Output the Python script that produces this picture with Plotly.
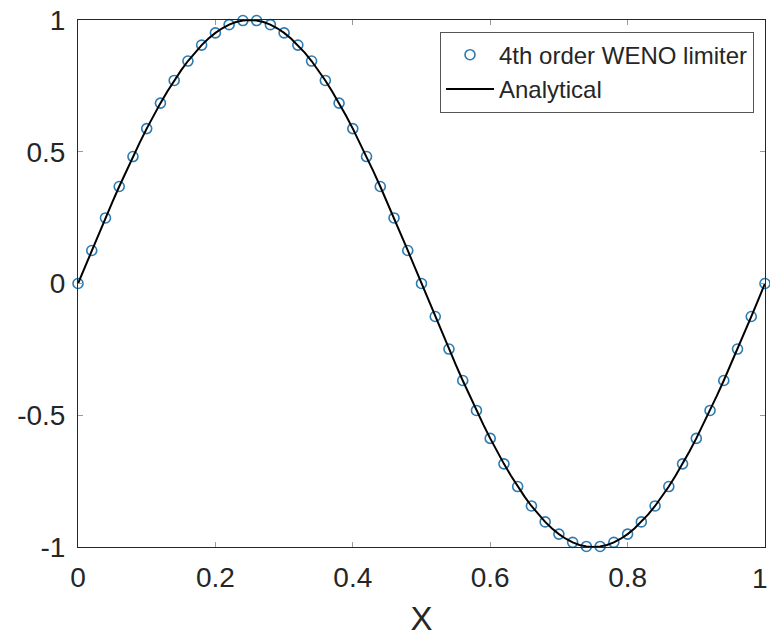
import numpy as np
import plotly.graph_objects as go

# Numerical solution (4th order WENO limiter), 51 samples on [0, 1]
weno_y = [0.0, 0.1253, 0.2487, 0.3681, 0.4818, 0.5878, 0.6845, 0.7705, 0.8443, 0.9048,
          0.9511, 0.9823, 0.9980, 0.9980, 0.9823, 0.9511, 0.9048, 0.8443, 0.7705, 0.6845,
          0.5878, 0.4818, 0.3681, 0.2487, 0.1253, 0.0, -0.1253, -0.2487, -0.3681, -0.4818,
          -0.5878, -0.6845, -0.7705, -0.8443, -0.9048, -0.9511, -0.9823, -0.9980, -0.9980, -0.9823,
          -0.9511, -0.9048, -0.8443, -0.7705, -0.6845, -0.5878, -0.4818, -0.3681, -0.2487, -0.1253,
          0.0]
weno_x = np.linspace(0, 1, len(weno_y))

# Analytical solution, 101 samples on [0, 1]
exact_y = [0.0, 0.0628, 0.1253, 0.1874, 0.2487, 0.3090, 0.3681, 0.4258, 0.4818, 0.5358,
           0.5878, 0.6374, 0.6845, 0.7290, 0.7705, 0.8090, 0.8443, 0.8763, 0.9048, 0.9298,
           0.9511, 0.9686, 0.9823, 0.9921, 0.9980, 1.0, 0.9980, 0.9921, 0.9823, 0.9686,
           0.9511, 0.9298, 0.9048, 0.8763, 0.8443, 0.8090, 0.7705, 0.7290, 0.6845, 0.6374,
           0.5878, 0.5358, 0.4818, 0.4258, 0.3681, 0.3090, 0.2487, 0.1874, 0.1253, 0.0628,
           0.0, -0.0628, -0.1253, -0.1874, -0.2487, -0.3090, -0.3681, -0.4258, -0.4818, -0.5358,
           -0.5878, -0.6374, -0.6845, -0.7290, -0.7705, -0.8090, -0.8443, -0.8763, -0.9048, -0.9298,
           -0.9511, -0.9686, -0.9823, -0.9921, -0.9980, -1.0, -0.9980, -0.9921, -0.9823, -0.9686,
           -0.9511, -0.9298, -0.9048, -0.8763, -0.8443, -0.8090, -0.7705, -0.7290, -0.6845, -0.6374,
           -0.5878, -0.5358, -0.4818, -0.4258, -0.3681, -0.3090, -0.2487, -0.1874, -0.1253, -0.0628,
           0.0]
exact_x = np.linspace(0, 1, len(exact_y))

x_ticks = [0, 0.2, 0.4, 0.6, 0.8, 1]
x_tick_text = ["0", "0.2", "0.4", "0.6", "0.8", "1"]
y_ticks = [-1, -0.5, 0, 0.5, 1]
y_tick_text = ["-1", "-0.5", "0", "0.5", "1"]

FONT = "Liberation Sans, Arial, Helvetica, sans-serif"
TICKFONT = dict(family=FONT, size=28, color="#262626")

fig = go.Figure()
fig.add_trace(go.Scatter(
    x=weno_x, y=weno_y, mode="markers", name="4th order WENO limiter",
    marker=dict(symbol="circle-open", size=10, color="#2e7bb0", line=dict(width=1.6)),
    cliponaxis=False,
))
fig.add_trace(go.Scatter(
    x=exact_x, y=exact_y, mode="lines", name="Analytical",
    line=dict(color="black", width=2),
))

axis_common = dict(
    showline=True, linecolor="#262626", linewidth=1, mirror="ticks",
    ticks="inside", ticklen=5, tickcolor="#9a9a9a", tickwidth=1,
    showgrid=False, zeroline=False, automargin=False,
    ticklabeloverflow="allow",
    tickfont=TICKFONT,
)

# last x tick label sits at the page edge: draw it right-aligned so it stays inside
x_tick_shown = x_tick_text[:-1] + [""]
fig.add_annotation(
    x=x_ticks[-1], xref="x", y=0, yref="paper",
    text=x_tick_text[-1], showarrow=False,
    xanchor="right", yanchor="top", xshift=5, yshift=-14,
    font=TICKFONT,
)

fig.update_layout(
    width=770, height=637,
    margin=dict(l=78, r=5, t=20, b=90),
    paper_bgcolor="white", plot_bgcolor="white",
    font=dict(family=FONT, color="#262626"),
    showlegend=True,
    legend=dict(
        x=0.984, y=0.978, xanchor="right", yanchor="top",
        bgcolor="white", bordercolor="#555555", borderwidth=1,
        font=dict(family=FONT, size=24, color="#262626"),
        tracegroupgap=0, itemwidth=48,
    ),
    xaxis=dict(axis_common, range=[0, 1], tickvals=x_ticks, ticktext=x_tick_shown,
               ticklabelstandoff=5,
               title=dict(text="X", font=dict(family=FONT, size=33, color="#262626"), standoff=16)),
    yaxis=dict(axis_common, range=[-1, 1], tickvals=y_ticks, ticktext=y_tick_text,
               ticklabelstandoff=6),
)

# remove the browser's default 8px body margin so the figure fills the window exactly
fig.write_html("out.html", config={"displayModeBar": False},
               post_script="document.body.style.margin='0';")
